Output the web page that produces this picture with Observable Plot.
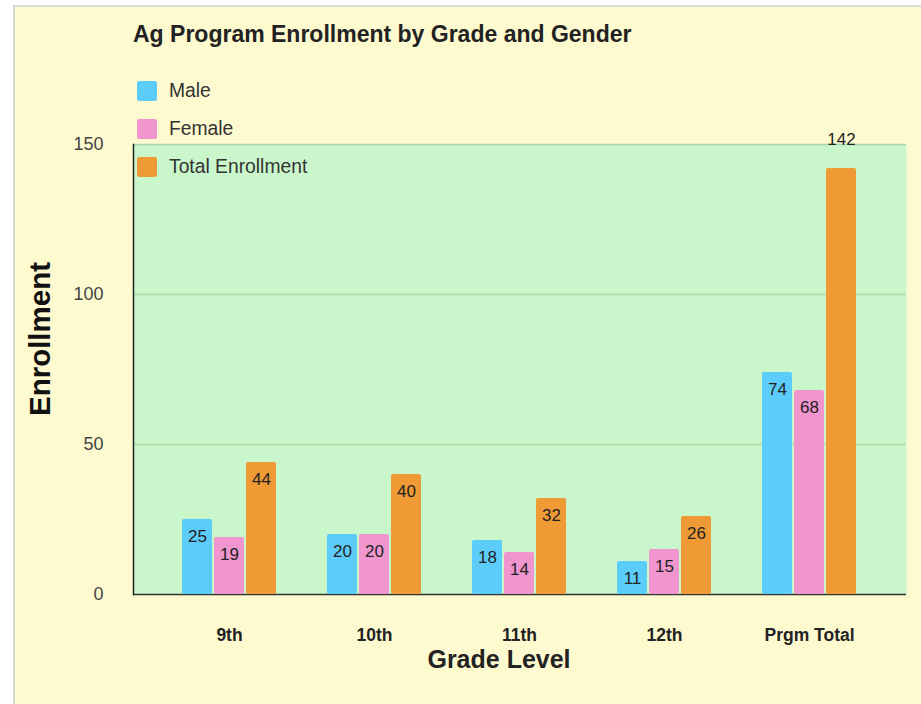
<!DOCTYPE html>
<html>
<head>
<meta charset="utf-8">
<script src="https://cdn.jsdelivr.net/npm/d3@7"></script>
<script src="https://cdn.jsdelivr.net/npm/@observablehq/plot@0.6"></script>
<style>
  html, body { margin: 0; padding: 0; background: #ffffff; width: 921px; height: 704px; overflow: hidden; font-family: "Liberation Sans", Arial, sans-serif; }
  #card { position: absolute; left: 13px; top: 5px; width: 906px; height: 697px; background: #fefacf; border-left: 2px solid #d4d4d0; border-top: 2px solid #dcdcd8; }
  #back, #front { position: absolute; left: 0; top: 0; }
  #title { position: absolute; left: 118px; top: 14px; font-size: 23px; font-weight: bold; color: #222; white-space: nowrap; }
  .legend { position: absolute; left: 122px; display: flex; align-items: center; font-size: 19.3px; color: #333; white-space: nowrap; }
  .legend .sw { width: 20px; height: 20px; border-radius: 2px; margin-right: 12px; }
  #ylabel { position: absolute; left: 25px; top: 332px; transform: translate(-50%, -50%) rotate(-90deg); font-size: 29.5px; font-weight: bold; color: #111; white-space: nowrap; }
  #xlabel { position: absolute; left: 484px; top: 652px; transform: translate(-50%, -50%); font-size: 25px; font-weight: bold; color: #222; white-space: nowrap; }
</style>
</head>
<body>
<div id="card">
  <div id="back"></div>
  <div id="front"></div>
  <div id="title"></div>
  <div id="legend"></div>
  <div id="ylabel"></div>
  <div id="xlabel"></div>
</div>
<script>
const categories = ["9th", "10th", "11th", "12th", "Prgm Total"];
const series = ["Male", "Female", "Total Enrollment"];
const male = [25, 20, 18, 11, 74];
const female = [19, 20, 14, 15, 68];
const totalEnrollment = [44, 40, 32, 26, 142];
const yTicks = [0, 50, 100, 150];
const seriesColors = ["#5ccdfb", "#f095ce", "#f09a36"];
const titleText = "Ag Program Enrollment by Grade and Gender";
const xTitle = "Grade Level";
const yTitle = "Enrollment";

const valuesBySeries = [male, female, totalEnrollment];
const data = categories.flatMap((c, i) =>
  series.map((s, j) => ({category: c, series: s, value: valuesBySeries[j][i]}))
);

const common = {
  width: 906,
  height: 697,
  marginTop: 137,
  marginBottom: 110,
  marginLeft: 118,
  marginRight: 15,
  style: {background: "transparent", fontFamily: "'Liberation Sans', Arial, sans-serif", overflow: "visible"},
  y: {domain: [0, 150], axis: null}
};

// Background layer: plot area, grid, axis lines, y tick labels
const back = Plot.plot({
  ...common,
  marks: [
    Plot.frame({fill: "#c9f7cb", stroke: null}),
    Plot.ruleY(yTicks.filter(d => d > 0), {stroke: "#a6d8a8", strokeWidth: 1.3}),
    Plot.ruleY([0], {stroke: "#333", strokeWidth: 1.5}),
    Plot.frame({anchor: "left", stroke: "#222", strokeWidth: 1.5}),
    Plot.axisY({ticks: yTicks, tickSize: 0, tickPadding: 30, label: null, fontSize: 18, fill: "#444"})
  ]
});
document.getElementById("back").appendChild(back);

// Foreground layer: grouped bars, value labels, category axis
const front = Plot.plot({
  ...common,
  fx: {domain: categories, paddingInner: 0.35, paddingOuter: 0.338, label: null},
  x: {domain: series, paddingInner: 0.07, paddingOuter: 0, axis: null},
  color: {domain: series, range: seriesColors},
  marks: [
    Plot.barY(data, {fx: "category", x: "series", y: "value", fill: "series", rx: 2}),
    Plot.text(data, {
      filter: d => d.value < 140,
      fx: "category", x: "series", y: "value", text: "value",
      dy: 17, fontSize: 17, fill: "#222", lineAnchor: "middle"
    }),
    Plot.text(data, {
      filter: d => d.value >= 140,
      fx: "category", x: "series", y: "value", text: "value",
      dy: -29, fontSize: 17, fill: "#222", lineAnchor: "middle"
    }),
    Plot.axisFx({anchor: "bottom", tickSize: 0, tickPadding: 34, label: null, fontSize: 17.5, fontWeight: "bold", fill: "#222"})
  ]
});
document.getElementById("front").appendChild(front);

document.getElementById("title").textContent = titleText;
document.getElementById("xlabel").textContent = xTitle;
document.getElementById("ylabel").textContent = yTitle;

const legend = document.getElementById("legend");
series.forEach((s, i) => {
  const row = document.createElement("div");
  row.className = "legend";
  row.style.top = (73 + i * 38) + "px";
  const sw = document.createElement("div");
  sw.className = "sw";
  sw.style.background = seriesColors[i];
  const label = document.createElement("span");
  label.textContent = s;
  row.appendChild(sw);
  row.appendChild(label);
  legend.appendChild(row);
});
</script>
</body>
</html>
